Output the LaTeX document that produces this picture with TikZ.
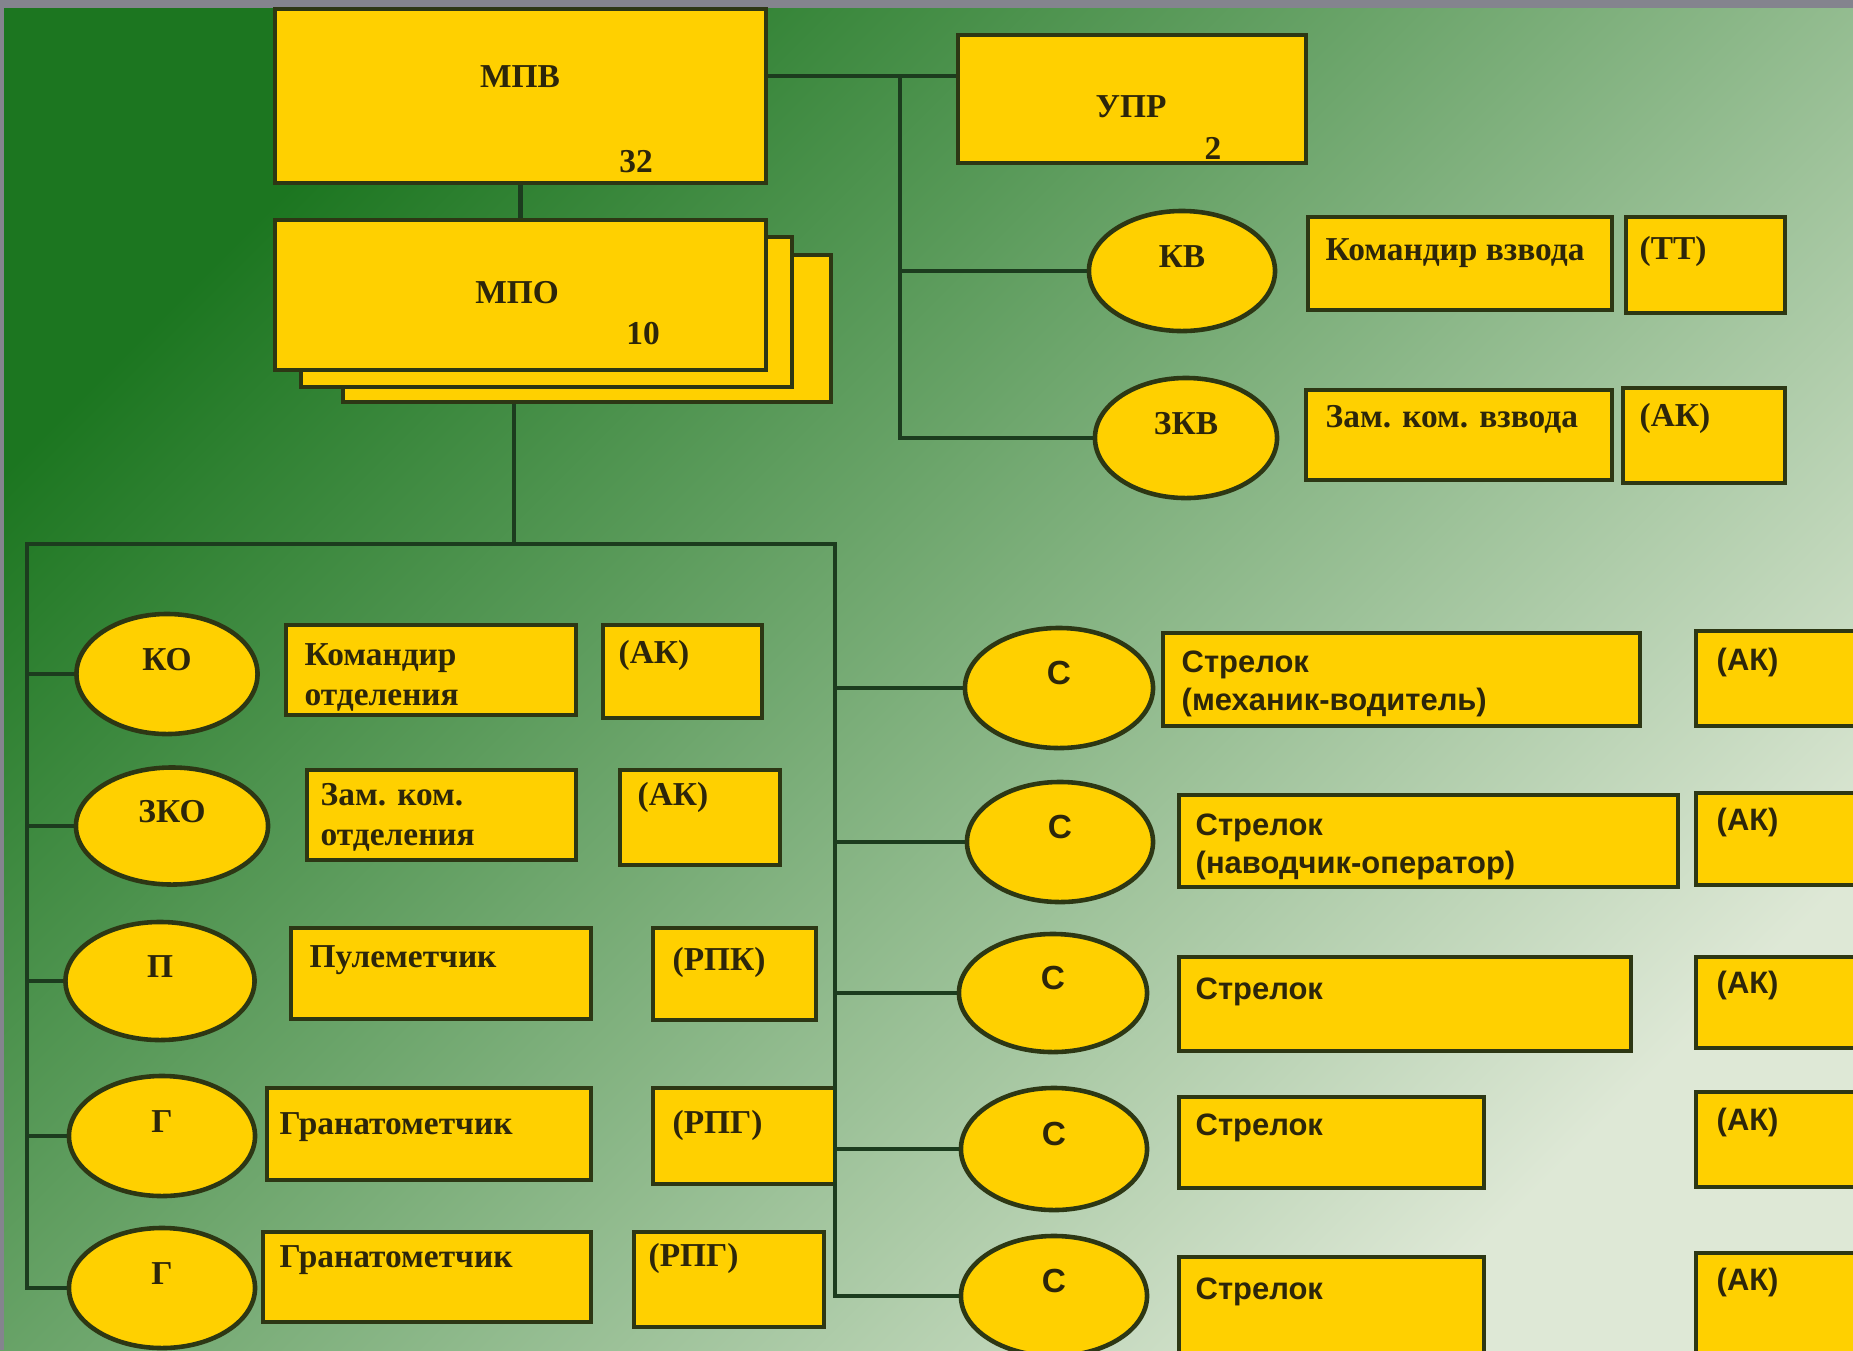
\documentclass[tikz,border=0pt]{standalone}
\usepackage{fontspec}
\setmainfont{Liberation Serif}
\setsansfont{Liberation Sans}
\usetikzlibrary{shapes.geometric,fit}

\definecolor{gold}{RGB}{255,208,0}
\definecolor{edge}{RGB}{45,55,20}
\definecolor{wirec}{RGB}{28,60,30}
\definecolor{ink}{RGB}{45,38,10}
\definecolor{bgdark}{RGB}{28,118,32}
\definecolor{bgmid}{RGB}{128,176,98}
\definecolor{bglight}{RGB}{222,232,214}
\definecolor{frame}{RGB}{132,132,142}

\tikzset{
  unit/.style={draw=edge, fill=gold, line width=1.3pt, inner sep=0pt},
  oval/.style={ellipse, draw=edge, fill=gold, line width=1.3pt, inner sep=0pt,
    minimum width=1.86cm, minimum height=1.2cm, text=ink,
    text height=0.22cm, text depth=0.3cm, font=\fontsize{9.5}{11}\selectfont\bfseries},
  soval/.style={oval, font=\fontsize{9.5}{11}\selectfont\sffamily\bfseries},
  txt/.style={anchor=north west, inner sep=0pt, align=left, text=ink,
    font=\fontsize{9.5}{11.4}\selectfont\bfseries},
  stxt/.style={txt, font=\fontsize{8.8}{10.8}\selectfont\sffamily\bfseries},
  num/.style={inner sep=0pt, text=ink, font=\fontsize{9.5}{11}\selectfont\bfseries},
  link/.style={draw=wirec, line width=1.2pt}
}

\begin{document}
\begin{tikzpicture}[x=0.01cm, y=-0.01cm]
\useasboundingbox (0,0) rectangle (1853,1350);
\clip (0,0) rectangle (1853,1350);
\shade[top color=bgdark, middle color=bgmid, bottom color=bglight, shading angle=45] (0,0) rectangle (1853,1350);
\fill[frame] (0,0) rectangle (1853,8);
\fill[frame] (0,0) rectangle (4,1350);

% platoon head
\node[unit, fit={(275,9) (766,183)}] (mpv) {};
\node[num] (mpvT) at (520,77) {МПВ};
\node[num] (mpvN) at (636,162) {32};
\node[unit, fit={(958,35) (1306,163)}] (upr) {};
\node[num] (uprT) at (1131,107) {УПР};
\node[num] (uprN) at (1213,148) {2};
\node[unit, fit={(343,255) (831,402)}] (mpo3) {};
\node[unit, fit={(301,237) (792,387)}] (mpo2) {};
\node[unit, fit={(275,220) (766,370)}] (mpo) {};
\node[num] (mpoT) at (517,293) {МПО};
\node[num] (mpoN) at (643,334) {10};

% management
\node[oval] (kv) at (1182,271) {КВ};
\node[unit, fit={(1308,217) (1612,310)}] (kvRole) {};
\node[txt] (kvRoleT) at (1325,238) {Командир взвода};
\node[unit, fit={(1626,217) (1785,313)}] (kvArm) {};
\node[txt] (kvArmT) at (1639,236) {(ТТ)};
\node[oval, minimum width=1.82cm] (zkv) at (1186,438) {ЗКВ};
\node[unit, fit={(1306,390) (1612,480)}] (zkvRole) {};
\node[txt] (zkvRoleT) at (1325,405) {Зам. ком. взвода};
\node[unit, fit={(1623,388) (1785,483)}] (zkvArm) {};
\node[txt] (zkvArmT) at (1639,403) {(АК)};

% squad, left column
\node[oval, minimum width=1.81cm] (ko) at (167,674) {КО};
\node[unit, fit={(286,625) (576,715)}] (koRole) {};
\node[txt] (koRoleT) at (304,643) {Командир\\отделения};
\node[unit, fit={(603,625) (762,718)}] (koArm) {};
\node[txt] (koArmT) at (618,640) {(АК)};
\node[oval, minimum width=1.92cm, minimum height=1.17cm] (zko) at (172,826) {ЗКО};
\node[unit, fit={(307,770) (576,860)}] (zkoRole) {};
\node[txt] (zkoRoleT) at (320,783) {Зам. ком.\\отделения};
\node[unit, fit={(620,770) (780,865)}] (zkoArm) {};
\node[txt] (zkoArmT) at (637,782) {(АК)};
\node[oval, minimum width=1.89cm, minimum height=1.18cm] (p) at (160,981) {П};
\node[unit, fit={(291,928) (591,1019)}] (pRole) {};
\node[txt] (pRoleT) at (309,945) {Пулеметчик};
\node[unit, fit={(653,928) (816,1020)}] (pArm) {};
\node[txt] (pArmT) at (672,947) {(РПК)};
\node[oval] (g1) at (162,1136) {Г};
\node[unit, fit={(267,1088) (591,1180)}] (g1Role) {};
\node[txt] (g1RoleT) at (279,1112) {Гранатометчик};
\node[unit, fit={(653,1088) (835,1184)}] (g1Arm) {};
\node[txt] (g1ArmT) at (672,1110) {(РПГ)};
\node[oval] (g2) at (162,1288) {Г};
\node[unit, fit={(263,1232) (591,1322)}] (g2Role) {};
\node[txt] (g2RoleT) at (279,1245) {Гранатометчик};
\node[unit, fit={(634,1232) (824,1327)}] (g2Arm) {};
\node[txt] (g2ArmT) at (648,1243) {(РПГ)};

% squad, right column
\node[soval, minimum width=1.88cm] (s1) at (1059,688) {С};
\node[unit, fit={(1163,633) (1640,726)}] (s1Role) {};
\node[stxt] (s1RoleT) at (1181,650) {Стрелок\\(механик-водитель)};
\node[unit, fit={(1696,631) (1880,726)}] (s1Arm) {};
\node[stxt] (s1ArmT) at (1716,647) {(АК)};
\node[soval] (s2) at (1060,842) {С};
\node[unit, fit={(1179,795) (1678,887)}] (s2Role) {};
\node[stxt] (s2RoleT) at (1195,813) {Стрелок\\(наводчик-оператор)};
\node[unit, fit={(1696,793) (1880,885)}] (s2Arm) {};
\node[stxt] (s2ArmT) at (1716,807) {(АК)};
\node[soval, minimum width=1.88cm, minimum height=1.18cm] (s3) at (1053,993) {С};
\node[unit, fit={(1179,957) (1631,1051)}] (s3Role) {};
\node[stxt] (s3RoleT) at (1195,977) {Стрелок};
\node[unit, fit={(1696,957) (1880,1048)}] (s3Arm) {};
\node[stxt] (s3ArmT) at (1716,970) {(АК)};
\node[soval, minimum height=1.22cm] (s4) at (1054,1149) {С};
\node[unit, fit={(1179,1097) (1484,1188)}] (s4Role) {};
\node[stxt] (s4RoleT) at (1195,1113) {Стрелок};
\node[unit, fit={(1696,1092) (1880,1187)}] (s4Arm) {};
\node[stxt] (s4ArmT) at (1716,1107) {(АК)};
\node[soval] (s5) at (1054,1296) {С};
\node[unit, fit={(1179,1257) (1484,1380)}] (s5Role) {};
\node[stxt] (s5RoleT) at (1195,1277) {Стрелок};
\node[unit, fit={(1696,1253) (1880,1380)}] (s5Arm) {};
\node[stxt] (s5ArmT) at (1716,1267) {(АК)};

% connectors
\coordinate (jUp) at (900,76);
\coordinate (busL) at (27,544);
\coordinate (busM) at (514,544);
\coordinate (busR) at (835,544);
\draw[link] (mpv.east |- jUp) -- (upr.west |- jUp);
\draw[link] (jUp) |- (zkv.west);
\draw[link] (jUp |- kv.west) -- (kv.west);
\draw[link] (mpv) -- (mpo);
\draw[link] (busM |- mpo3.south) -- (busM);
\draw[link] (g2.west) -| (busL) -- (busR) |- (s5.west);
\foreach \n in {ko,zko,p,g1} \draw[link] (busL |- \n.west) -- (\n.west);
\foreach \n in {s1,s2,s3,s4} \draw[link] (busR |- \n.west) -- (\n.west);
\end{tikzpicture}
\end{document}
